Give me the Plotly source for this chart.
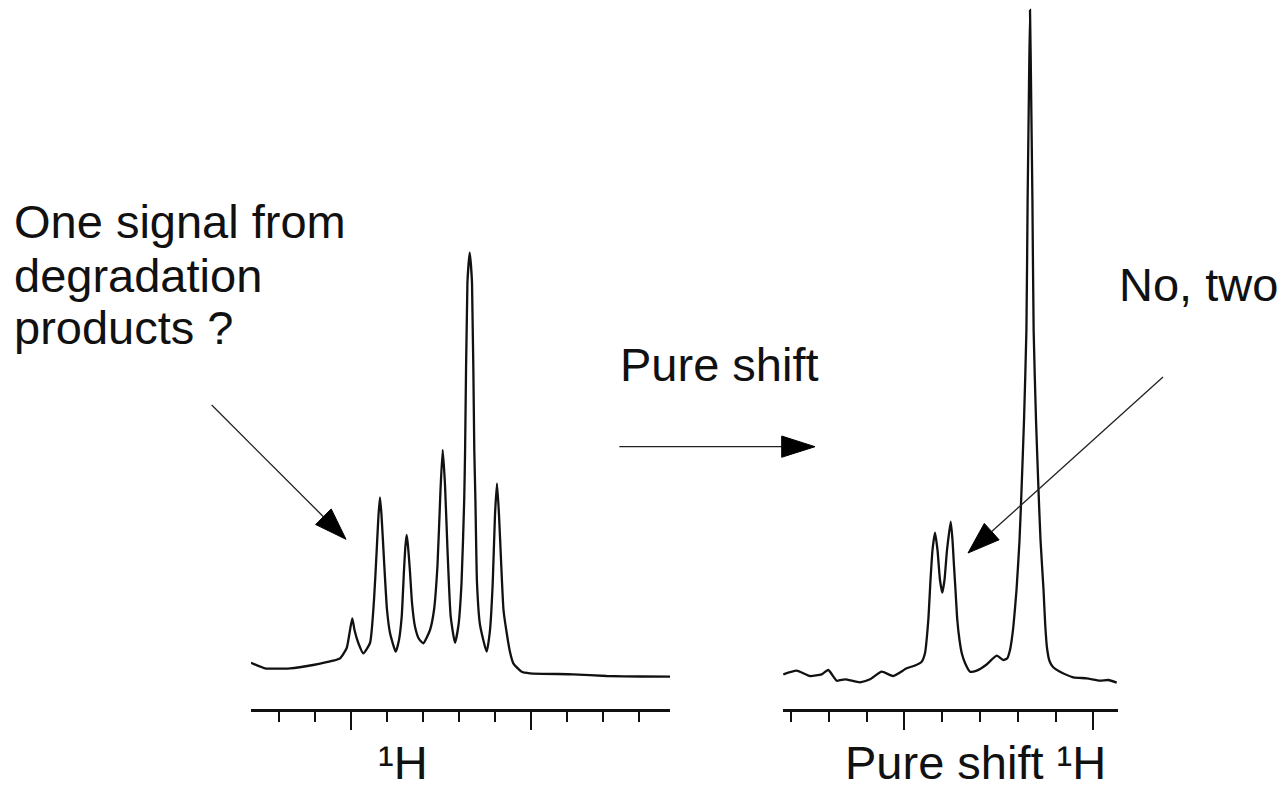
import plotly.graph_objects as go

W, H = 1284, 792

# ---------------- data ----------------
# Left: conventional 1H spectrum. x = frequency offset (minor tick = 10), y = intensity (a.u.)
h1_x = [-27.65, -23.76, -16.83, -10.45, -4.91, -2.97, -1.11, -0.19, 0.44, 1.05,
        2.11, 3.49, 5.35, 6.46, 7.21, 7.71, 8.12, 8.54, 9.23, 10.07,
        10.90, 12.48, 13.39, 14.14, 14.78, 15.20, 15.53, 15.89, 16.44, 17.00,
        17.83, 18.94, 20.13, 21.99, 23.10, 24.07, 24.90, 25.51, 26.15, 26.84,
        27.73, 28.92, 29.89, 30.73, 31.47, 31.72, 32.36, 33.00, 33.64, 34.27,
        34.58, 35.02, 35.86, 37.71, 38.63, 39.38, 40.01, 40.57, 41.12, 41.68,
        42.37, 43.26, 44.17, 45.09, 47.42, 49.72, 61.64, 70.99, 80.22, 88.54]
h1_y = [46.3, 40.7, 40.7, 44.0, 48.3, 50.7, 61.0, 79.0, 90.7, 79.0,
        66.0, 55.7, 66.0, 109.0, 159.0, 194.0, 211.7, 194.0, 149.0, 99.0,
        76.0, 57.3, 69.0, 92.3, 139.0, 164.0, 174.0, 163.0, 137.0, 106.0,
        82.3, 70.0, 65.7, 79.0, 99.0, 144.0, 219.0, 259.0, 224.0, 159.0,
        92.3, 66.3, 84.0, 126.0, 209.0, 259.0, 426.0, 456.3, 426.0, 259.0,
        209.0, 126.0, 84.0, 57.3, 79.0, 126.0, 194.0, 225.7, 194.0, 149.0,
        99.0, 76.0, 57.0, 45.7, 37.3, 35.7, 34.7, 33.0, 32.5, 32.3]

# Right: pure shift 1H spectrum
ps_x = [-32.01, -28.47, -24.95, -21.85, -20.11, -17.88, -15.69, -11.72, -9.07, -5.98,
        -2.91, 0.63, 2.83, 4.60, 5.48, 6.35, 6.93, 7.46, 8.12, 8.78,
        9.44, 10.05, 10.63, 11.30, 12.28, 12.75, 13.10, 13.54, 14.02, 14.60,
        15.19, 16.06, 17.38, 19.15, 21.61, 24.44, 26.19, 27.25, 27.96, 28.41,
        28.89, 29.68, 30.48, 31.01, 31.67, 32.30, 32.62, 32.94, 33.25, 33.57,
        33.89, 34.21, 34.84, 35.50, 36.03, 36.83, 37.28, 37.75, 38.41, 39.34,
        41.19, 44.71, 48.25, 51.77, 53.97, 56.19]
ps_y = [34.7, 38.3, 33.0, 34.7, 39.0, 28.3, 29.7, 26.7, 29.7, 37.3,
        33.0, 40.7, 43.5, 47.3, 56.0, 89.0, 129.0, 159.0, 176.3, 159.0,
        129.0, 116.3, 129.0, 159.0, 187.3, 169.0, 146.0, 119.0, 89.0, 69.0,
        56.0, 46.0, 37.3, 38.3, 44.0, 53.3, 49.0, 50.7, 59.0, 69.0,
        84.0, 119.0, 169.0, 219.0, 289.0, 379.0, 509.0, 609.0, 699.0, 609.0,
        509.0, 379.0, 289.0, 219.0, 169.0, 119.0, 84.0, 61.0, 48.0, 42.0,
        37.3, 31.7, 30.7, 28.3, 29.0, 26.3]

left_range = [-27.65, 88.54]
right_range = [-32.09, 56.53]
y_range = [0, 709]

FONT = "Liberation Sans, Arial, sans-serif"


def px(x):
    return x / W


def py(y):
    return 1 - y / H


fig = go.Figure()
line_style = dict(color="#111111", width=2.3, shape="spline", smoothing=0.5)
fig.add_trace(go.Scatter(x=h1_x, y=h1_y, mode="lines", line=line_style,
                         xaxis="x", yaxis="y", showlegend=False, hoverinfo="skip"))
fig.add_trace(go.Scatter(x=ps_x, y=ps_y, mode="lines", line=line_style,
                         xaxis="x2", yaxis="y2", showlegend=False, hoverinfo="skip"))

xax = dict(showgrid=False, zeroline=False, showticklabels=False,
           showline=True, linecolor="#111111", linewidth=2.5,
           ticks="outside", tickmode="linear", tick0=0, dtick=50,
           ticklen=18, tickwidth=2.2, tickcolor="#111111",
           minor=dict(tick0=0, dtick=10, ticks="outside", ticklen=10,
                      tickwidth=2.2, tickcolor="#111111"),
           fixedrange=True)
yax = dict(visible=False, range=y_range, domain=[py(709), 1], fixedrange=True)

fig.update_layout(
    width=W, height=H,
    margin=dict(l=0, r=0, t=0, b=0),
    paper_bgcolor="white", plot_bgcolor="white",
    xaxis=dict(xax, domain=[px(251), px(670)], range=left_range, anchor="y"),
    yaxis=dict(yax, anchor="x"),
    xaxis2=dict(xax, domain=[px(783), px(1118)], range=right_range, anchor="y2"),
    yaxis2=dict(yax, anchor="x2"),
)

# ---------------- text ----------------
S = 47
texts = [
    ("One signal from", 12, 238, "left"),
    ("degradation", 12, 292, "left"),
    ("products ?", 12, 344, "left"),
    ("Pure shift", 618, 381, "left"),
    ("No, two", 1280, 301, "right"),
    ("¹H", 376, 779, "left"),
    ("Pure shift ¹H", 843, 779, "left"),
]
for t, x, base, anc in texts:
    fig.add_annotation(text=t, x=px(x), y=py(base - 0.3465 * S), xref="paper", yref="paper",
                       xanchor=anc, yanchor="middle", showarrow=False,
                       font=dict(family=FONT, size=S, color="#111111"))

# ---------------- arrows ----------------
arrows = [
    # line start, line end (base of head), tip, corner1, corner2
    ((211.7, 405), (323.4, 516.7), (346, 539.3), (315.6, 524.5), (331.2, 508.9)),
    ((619.3, 446.7), (782, 446.7), (815, 446.7), (781.7, 436), (781.7, 457.3)),
    ((1163, 377), (991.7, 531.6), (968, 553), (999.1, 539.8), (984.3, 523.4)),
]
for s, e, tip, c1, c2 in arrows:
    fig.add_shape(type="line", xref="paper", yref="paper",
                  x0=px(s[0]), y0=py(s[1]), x1=px(e[0]), y1=py(e[1]),
                  line=dict(color="#222222", width=1.3))
    path = (f"M {px(tip[0])},{py(tip[1])} L {px(c1[0])},{py(c1[1])} "
            f"L {px(c2[0])},{py(c2[1])} Z")
    fig.add_shape(type="path", xref="paper", yref="paper", path=path,
                  fillcolor="#000000", line=dict(color="#000000", width=1))

fig.write_html("out.html")
